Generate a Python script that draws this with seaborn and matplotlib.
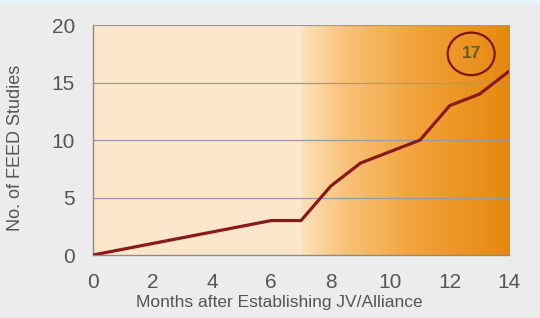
import numpy as np
import matplotlib
matplotlib.use("Agg")
import matplotlib.pyplot as plt
import seaborn as sns
import pandas as pd
from matplotlib.colors import LinearSegmentedColormap
from matplotlib.patches import Ellipse, Rectangle

months = [0, 1, 2, 3, 4, 5, 6, 7, 8, 9, 10, 11, 12, 13, 14]
feed_studies = [0, 0.5, 1, 1.5, 2, 2.5, 3, 3, 6, 8, 9, 10, 13, 14, 16]
x_ticks = [0, 2, 4, 6, 8, 10, 12, 14]
y_ticks = [0, 5, 10, 15, 20]
callout_text = "17"

df = pd.DataFrame({"month": months, "studies": feed_studies})

sns.set_theme(style="white")
plt.rcParams["font.family"] = ["Liberation Sans", "DejaVu Sans"]

fig = plt.figure(figsize=(5.4, 3.18), dpi=100, facecolor="#ececec")
fig.patches.append(Rectangle((0, 0.99), 1, 0.01, transform=fig.transFigure,
                             color="#e4f6f8", zorder=0))
ax = fig.add_axes([0.172, 0.198, 0.771, 0.723])
ax.set_facecolor("#fde7ca")

# gradient background for months 7-14
cmap = LinearSegmentedColormap.from_list(
    "og", [(0.0, "#fde2bd"), (0.2, "#f9c37c"), (0.55, "#f1a23a"), (1.0, "#e6880e")])
grad = np.linspace(0, 1, 256).reshape(1, -1)
ax.imshow(grad, extent=[7, 14, 0, 20], aspect="auto", cmap=cmap, zorder=0)

for y in y_ticks[1:]:
    ax.axhline(y, color="#9a9a9a", lw=0.9, zorder=1)

sns.lineplot(data=df, x="month", y="studies", ax=ax, color="#8a1a1a", lw=2.3,
             zorder=3, solid_capstyle="round")

ax.add_patch(Ellipse((12.72, 17.5), 1.58, 3.7, fill=False, ec="#7a1515", lw=1.6, zorder=4))
ax.text(12.72, 17.55, callout_text, ha="center", va="center", fontsize=12.5,
        fontweight="bold", color="#6b5a1e", zorder=5)

ax.set_xlim(0, 14)
ax.set_ylim(0, 20)
ax.set_xticks(x_ticks)
ax.set_xticks(months, minor=True)
ax.set_yticks(y_ticks)
ax.tick_params(axis="both", which="both", direction="out", color="#8a8a8a",
               labelcolor="#555555", labelsize=15)
ax.tick_params(axis="x", which="major", length=5, width=1, pad=8)
ax.tick_params(axis="x", which="minor", length=5, width=1)
ax.tick_params(axis="y", which="major", length=6, width=1, pad=7)
for s in ["top", "right"]:
    ax.spines[s].set_visible(False)
for s in ["left", "bottom"]:
    ax.spines[s].set_color("#8a8a8a")
    ax.spines[s].set_linewidth(1.0)
ax.set_xlabel("Months after Establishing JV/Alliance", fontsize=12.5, color="#555555")
ax.set_ylabel("No. of FEED Studies", fontsize=13, color="#555555")
ax.xaxis.set_label_coords(0.447, -0.175)
ax.yaxis.set_label_coords(-0.165, 0.467)

fig.savefig("out.png", dpi=100, facecolor=fig.get_facecolor())
